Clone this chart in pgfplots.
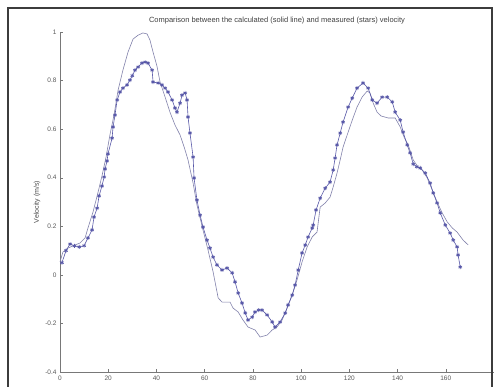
\documentclass[border=0pt]{standalone}
\usepackage{pgfplots}
\pgfplotsset{compat=1.18}
\usepackage{fontspec}
\setmainfont{Liberation Sans}
\definecolor{starc}{RGB}{88,88,168}
\definecolor{linec}{RGB}{130,130,172}
\definecolor{framec}{RGB}{60,60,60}
\definecolor{axc}{RGB}{120,120,120}
\begin{document}
\begin{tikzpicture}[x=1pt,y=1pt]
\useasboundingbox (0,0) rectangle (494,387);
\fill[white] (0,0) rectangle (494,387);
\begin{axis}[
  at={(60pt,15pt)}, anchor=south west,
  scale only axis, width=434pt, height=340pt,
  xmin=0, xmax=180, ymin=-0.4, ymax=1,
  xtick={0,20,...,160}, ytick={-0.4,-0.2,0,0.2,0.4,0.6,0.8,1},
  yticklabels={-0.4,-0.2,0,0.2,0.4,0.6,0.8,1},
  /pgf/number format/assume math mode=true,
  tick label style={font=\fontsize{6.5}{7}\selectfont, text=black!65},
  tick style={axc, line width=0.4pt},
  major tick length=2.5pt,
  tick align=inside,
  axis line style={axc, line width=0.5pt},
  axis x line*=bottom, axis y line*=left,
  title={Comparison between the calculated (solid line) and measured (stars) velocity},
  title style={font=\fontsize{7.5}{8}\selectfont, text=black!75, yshift=-2pt},
  ylabel={Velocity (m/s)},
  ylabel style={font=\fontsize{7}{8}\selectfont, text=black!70, yshift=-2pt},
  clip=false,
]
\addplot[linec, line width=0.6pt] coordinates {
(0,0.053) (1.2,0.094) (3.3,0.110) (6.2,0.123) (8.3,0.131) (10.4,0.152)
(11.6,0.193) (13.7,0.259) (15.8,0.341) (17.4,0.407) (19.1,0.485) (20.7,0.576)
(22.4,0.658) (24.1,0.761) (26.1,0.843) (28.2,0.917) (30.3,0.971) (32.4,0.987)
(34.4,0.996) (36.1,0.992) (37.3,0.967) (38.6,0.917) (40.2,0.860) (41.5,0.794)
(43.6,0.732) (45.6,0.670) (47.7,0.617) (49.8,0.576) (51.5,0.526) (53.1,0.473)
(55.2,0.378) (56.8,0.288) (59.3,0.185) (61.4,0.102) (63.5,0.012) (65.6,-0.095)
(67.2,-0.112) (70.5,-0.112) (71.8,-0.137) (73.9,-0.153) (75.9,-0.186) (78.0,-0.215)
(80.9,-0.227) (83.0,-0.256) (85.9,-0.248) (88.0,-0.227) (90.0,-0.215) (92.1,-0.186)
(94.2,-0.137) (96.3,-0.083) (98.3,-0.021) (100.4,0.053) (102.5,0.115) (104.6,0.156)
(106.6,0.176) (107.9,0.279) (110.0,0.296) (112.0,0.320) (113.3,0.362) (114.9,0.419)
(116.2,0.473) (117.4,0.526) (119.1,0.576) (121.2,0.637) (123.2,0.691) (125.3,0.732)
(127.4,0.757) (128.6,0.749) (129.9,0.707) (131.5,0.670) (133.2,0.654) (136.1,0.646)
(139.0,0.646) (141.1,0.609) (142.7,0.567) (144.4,0.535) (146.5,0.473) (148.5,0.444)
(150.2,0.432) (152.3,0.399) (154.4,0.349) (156.4,0.300) (158.5,0.255) (160.6,0.218)
(162.7,0.193) (164.7,0.176) (167.2,0.143) (169.3,0.123)
};
\addplot[starc, line width=0.6pt, mark=asterisk, mark size=2pt, mark options={line width=0.7pt}] coordinates {
(0.8,0.05) (2.5,0.10) (4.2,0.127) (6.0,0.119) (8.0,0.115) (10.0,0.12)
(11.6,0.152) (13.3,0.185) (14.1,0.238) (15.4,0.275) (16.2,0.325) (17.4,0.366)
(18.3,0.403) (18.7,0.436) (19.5,0.469) (19.9,0.498) (21.6,0.563) (22.0,0.609)
(22.8,0.658) (23.7,0.720) (24.9,0.753) (26.1,0.769) (27.8,0.782) (29.0,0.802)
(30.0,0.82) (31.1,0.843) (32.4,0.856) (34.0,0.872) (35.3,0.876) (36.5,0.872)
(38.2,0.843) (38.6,0.794) (40.7,0.790) (42.3,0.782) (43.6,0.769) (44.8,0.753)
(46.5,0.720) (47.7,0.687) (48.5,0.670) (49.8,0.707) (50.6,0.740) (51.9,0.749)
(52.7,0.720) (53.1,0.650) (53.9,0.584) (55.2,0.485) (55.6,0.399) (56.8,0.308)
(58.1,0.246) (59.3,0.197) (61.0,0.143) (62.2,0.110) (63.5,0.073) (65.1,0.041)
(67.2,0.020) (69.3,0.028) (71.4,0.008) (72.6,-0.029) (73.9,-0.075) (75.5,-0.116)
(76.8,-0.157) (78.0,-0.186) (79.7,-0.174) (80.9,-0.153) (82.4,-0.145) (83.8,-0.145)
(85.9,-0.165) (88.0,-0.194) (89.2,-0.215) (91.3,-0.194) (93.4,-0.157) (94.6,-0.124)
(96.3,-0.083) (97.5,-0.042) (98.8,0.020) (100.4,0.090) (101.7,0.123) (102.9,0.156)
(104.6,0.193) (105.0,0.205) (106.2,0.267) (107.9,0.316) (110.0,0.357) (112.0,0.382)
(113.3,0.432) (114.1,0.481) (114.9,0.535) (116.2,0.584) (117.4,0.629) (119.5,0.691)
(121.2,0.728) (123.2,0.769) (125.7,0.790) (127.8,0.769) (129.5,0.720) (131.5,0.707)
(133.6,0.732) (135.7,0.732) (137.8,0.712) (139.0,0.670) (141.1,0.637) (142.3,0.588)
(144.0,0.535) (145.2,0.502) (146.5,0.456) (148.0,0.445) (149.4,0.440) (151.5,0.419)
(153.5,0.378) (154.8,0.337) (156.4,0.296) (157.7,0.255) (159.8,0.205) (161.8,0.172)
(163.1,0.143) (164.7,0.115) (165.1,0.082) (166.0,0.032)
};
\end{axis}
\draw[framec, line width=1.8pt] (8,-5) -- (8,379) -- (492,379) -- (492,-5);
\end{tikzpicture}
\end{document}
